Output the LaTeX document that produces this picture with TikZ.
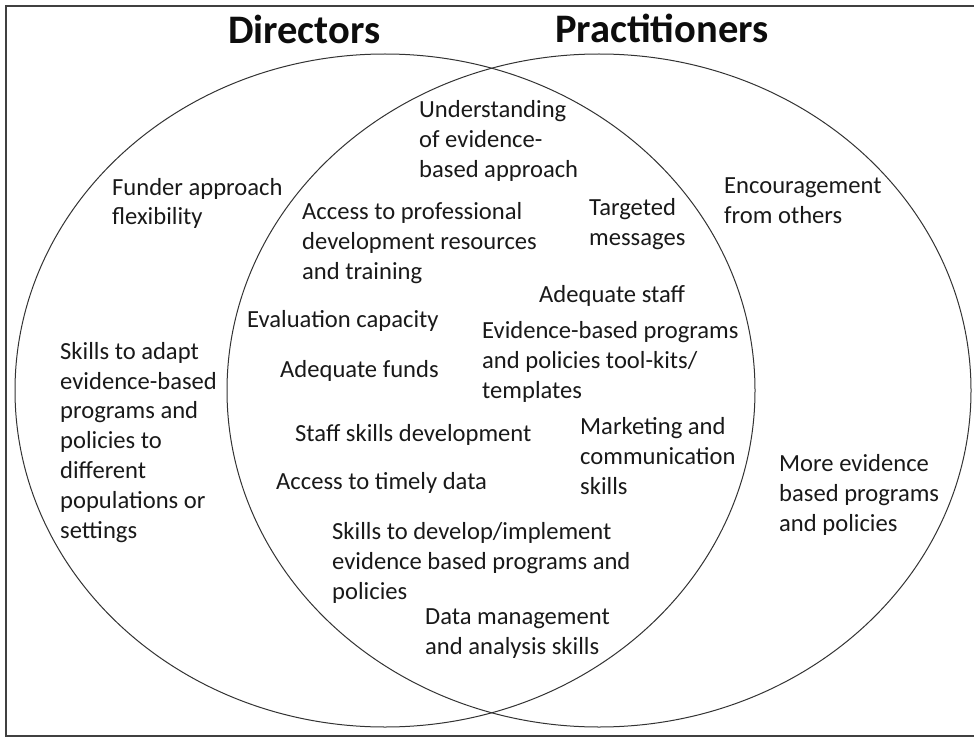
\documentclass[tikz,border=0pt]{standalone}
\usepackage{fontspec}
\setmainfont{Carlito}
\begin{document}
\begin{tikzpicture}[x=1pt,y=-1pt,
    lbl/.style={anchor=base west,inner sep=0pt,align=left,
      font=\fontsize{24.6}{29.8}\selectfont,text=black!90},
    ttl/.style={anchor=base west,inner sep=0pt,
      font=\fontsize{40.5}{46}\selectfont\bfseries,text=black!95}]
  \useasboundingbox (0,0) rectangle (974,738);
  % frame and the two sets
  \draw[line width=2,black!75] (974,6) -- (6,6) -- (6,736) -- (974,736);
  \begin{scope}[line width=1,black!80]
    \draw (385,390.5) ellipse [x radius=370,y radius=336.5];
    \draw (599,390.5) ellipse [x radius=372,y radius=336.5];
  \end{scope}
  % titles
  \node[ttl] (directors) at (228,44) {Directors};
  \node[ttl] (practitioners) at (555,43) {Practitioners};
  % directors only (anchored at the baseline of the last line)
  \node[lbl] (funder) at (112,225) {Funder approach\\flexibility};
  \node[lbl] (adapt) at (60,538) {Skills to adapt\\evidence-based\\programs and\\policies to\\different\\populations or\\settings};
  % both
  \node[lbl] (understand) at (419,177.5) {Understanding\\of evidence-\\based approach};
  \node[lbl] (access) at (302,279) {Access to professional\\development resources\\and training};
  \node[lbl] (targeted) at (589,245) {Targeted\\messages};
  \node[lbl] (staff) at (539,302) {Adequate staff};
  \node[lbl] (evalcap) at (247,327) {Evaluation capacity};
  \node[lbl] (toolkits) at (482,398) {Evidence-based programs\\and policies tool-kits/\\templates};
  \node[lbl] (funds) at (280,377) {Adequate funds};
  \node[lbl] (skilldev) at (295,441) {Staff skills development};
  \node[lbl] (marketing) at (580,494) {Marketing and\\communication\\skills};
  \node[lbl] (timely) at (276,489) {Access to timely data};
  \node[lbl] (implement) at (332,599.5) {Skills to develop/implement\\evidence based programs and\\policies};
  \node[lbl] (datamgmt) at (425,654) {Data management\\and analysis skills};
  % practitioners only
  \node[lbl] (encourage) at (724,223) {Encouragement\\from others};
  \node[lbl] (more) at (779,531) {More evidence\\based programs\\and policies};
\end{tikzpicture}
\end{document}
